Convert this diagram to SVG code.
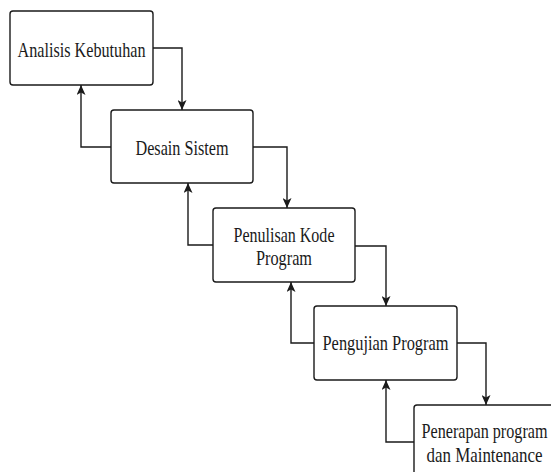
<svg xmlns="http://www.w3.org/2000/svg" width="551" height="472" viewBox="0 0 551 472">
  <style>
    .box { fill: #ffffff; stroke: #1a1a1a; stroke-width: 1.4; }
    .lbl { font-family: "Liberation Serif", "Times New Roman", serif; font-size: 21px; fill: #1a1a1a; text-anchor: middle; }
    .conn { fill: none; stroke: #1a1a1a; stroke-width: 1.4; marker-end: url(#arrow); }
  </style>
  <defs>
    <!-- classic arrowhead, tip placed on the box edge -->
    <marker id="arrow" viewBox="0 0 10 9" refX="10" refY="4.5" markerWidth="10" markerHeight="9" markerUnits="userSpaceOnUse" orient="auto">
      <path d="M0,0 L10,4.5 L0,9 L2.5,4.5 Z" fill="#1a1a1a"/>
    </marker>
  </defs>

  <rect width="551" height="472" fill="#ffffff"/>

  <g id="connectors">
    <path class="conn" d="M153,48 H182 V110"/>
    <path class="conn" d="M111,147 H81 V85"/>
    <path class="conn" d="M253,147 H287 V208"/>
    <path class="conn" d="M213,245 H188 V183"/>
    <path class="conn" d="M355,246 H386 V306"/>
    <path class="conn" d="M314,343 H291 V282"/>
    <path class="conn" d="M457,343 H486 V405"/>
    <path class="conn" d="M414,442 H386 V380"/>
  </g>

  <g id="analisis">
    <rect class="box" x="10" y="11" width="143" height="74" rx="3"/>
    <text class="lbl" x="81.5" y="57" textLength="128" lengthAdjust="spacingAndGlyphs">Analisis Kebutuhan</text>
  </g>

  <g id="desain">
    <rect class="box" x="111" y="110" width="142" height="73" rx="3"/>
    <text class="lbl" x="182" y="155" textLength="93" lengthAdjust="spacingAndGlyphs">Desain Sistem</text>
  </g>

  <g id="penulisan">
    <rect class="box" x="213" y="208" width="142" height="74" rx="3"/>
    <text class="lbl" x="284" y="242" textLength="101" lengthAdjust="spacingAndGlyphs">Penulisan Kode</text>
    <text class="lbl" x="284" y="265" textLength="56" lengthAdjust="spacingAndGlyphs">Program</text>
  </g>

  <g id="pengujian">
    <rect class="box" x="314" y="306" width="143" height="74" rx="3"/>
    <text class="lbl" x="385.5" y="350" textLength="126" lengthAdjust="spacingAndGlyphs">Pengujian Program</text>
  </g>

  <g id="penerapan">
    <rect class="box" x="414" y="405" width="142" height="74" rx="3"/>
    <text class="lbl" x="484.5" y="438" textLength="126" lengthAdjust="spacingAndGlyphs">Penerapan program</text>
    <text class="lbl" x="484.5" y="462" textLength="116" lengthAdjust="spacingAndGlyphs">dan Maintenance</text>
  </g>
</svg>
